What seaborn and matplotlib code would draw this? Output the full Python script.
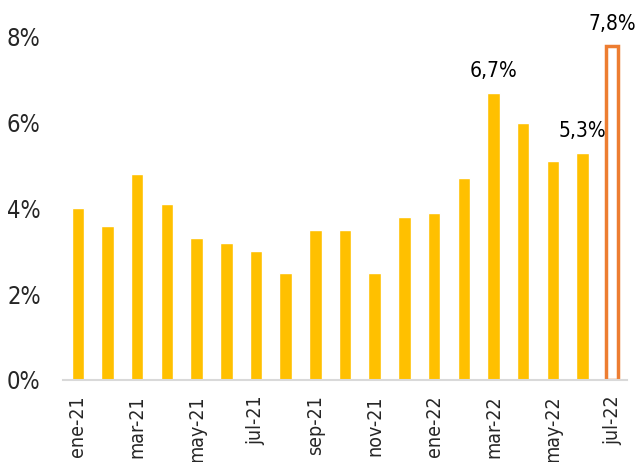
import matplotlib
matplotlib.use("Agg")
import matplotlib.pyplot as plt
import seaborn as sns
import pandas as pd

# ==== Datos ====
months = ["ene-21", "feb-21", "mar-21", "abr-21", "may-21", "jun-21", "jul-21",
          "ago-21", "sep-21", "oct-21", "nov-21", "dic-21",
          "ene-22", "feb-22", "mar-22", "abr-22", "may-22", "jun-22", "jul-22"]
values = [4.0, 3.6, 4.8, 4.1, 3.3, 3.2, 3.0, 2.5, 3.5, 3.5, 2.5, 3.8,
          3.9, 4.7, 6.7, 6.0, 5.1, 5.3, 7.8]
labelled = {"mar-22": "6,7%", "jun-22": "5,3%", "jul-22": "7,8%"}
yticks = [0, 2, 4, 6, 8]

yellow = "#FFC000"
orange = "#ED7D31"

sns.set_style("white")
plt.rcParams["font.family"] = ["DejaVu Sans"]
plt.rcParams["font.stretch"] = "condensed"

df = pd.DataFrame({"mes": months, "valor": values})
colors = [yellow] * (len(months) - 1) + [orange]

fig = plt.figure(figsize=(6.36, 4.62), dpi=100)
ax = fig.add_axes([0.099, 0.1775, 0.887, 0.7425])

sns.barplot(data=df, x="mes", y="valor", hue="mes", palette=colors,
            legend=False, width=0.42, ax=ax, saturation=1)

# último mes: barra hueca con borde naranja
last = ax.patches[len(months) - 1]
last.set_facecolor("white")
last.set_edgecolor(orange)
last.set_linewidth(2.5)

for i, m in enumerate(months):
    if m in labelled:
        ax.text(i, values[i] + 0.28, labelled[m], ha="center", va="bottom",
                fontsize=15, color="black", clip_on=False)

ax.set_xlim(-0.5, len(months) - 0.5)
ax.set_ylim(0, 8)
ax.set_yticks(yticks)
ax.set_yticklabels([f"{t}%" for t in yticks], fontsize=17)
ax.set_xticks(range(len(months)))
ax.set_xticklabels([m if i % 2 == 0 else "" for i, m in enumerate(months)],
                   rotation=90, fontsize=14)
ax.tick_params(axis="y", length=0, pad=16)
ax.tick_params(axis="x", length=0, pad=11)
ax.set_xlabel("")
ax.set_ylabel("")

for s in ["top", "right", "left"]:
    ax.spines[s].set_visible(False)
ax.spines["bottom"].set_color("#D9D9D9")
ax.spines["bottom"].set_linewidth(1.5)

fig.savefig("out.png", dpi=100)
